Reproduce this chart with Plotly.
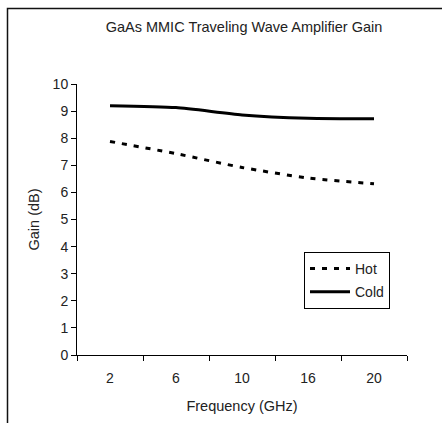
import plotly.graph_objects as go

freq_labels = ["2", "6", "10", "16", "20"]
hot_gain = [7.88, 7.43, 6.92, 6.53, 6.32]
cold_gain = [9.2, 9.13, 8.86, 8.74, 8.72]
y_ticks = list(range(0, 11))

W, H = 442, 423
L, R, T, B = 77, 35, 84, 68
pw, ph = W - L - R, H - T - B

def px_x(p):
    return (p - L) / pw

def px_y(p):
    return (H - B - p) / ph

font = "Liberation Sans, Arial, sans-serif"
txt = "#222"

fig = go.Figure()
fig.add_trace(go.Scatter(
    x=freq_labels, y=hot_gain, name="Hot", mode="lines",
    line=dict(color="black", width=3, dash="5px,7px", shape="spline", smoothing=0.6),
    legendgroup="a",
))
fig.add_trace(go.Scatter(
    x=freq_labels, y=cold_gain, name="Cold", mode="lines",
    line=dict(color="black", width=3, shape="spline", smoothing=0.6),
    legendgroup="b",
))

fig.update_layout(
    width=W, height=H,
    margin=dict(l=L, r=R, t=T, b=B),
    paper_bgcolor="white", plot_bgcolor="white",
    font=dict(family=font, size=14, color=txt),
    title=dict(text="GaAs MMIC Traveling Wave Amplifier Gain", xref="container", x=244 / W,
               xanchor="center", y=1 - 27 / H, yanchor="middle",
               font=dict(size=14.5, color=txt)),
    showlegend=True,
    legend=dict(x=px_x(304), xanchor="left", y=px_y(252), yanchor="top",
                bordercolor="black", borderwidth=1, bgcolor="white",
                font=dict(size=14, color=txt), tracegroupgap=2,
                traceorder="grouped", itemwidth=40),
    xaxis=dict(type="category", range=[-0.5, 4.5], showgrid=False,
               showline=True, linecolor="black", linewidth=1,
               ticks="outside", ticklen=5, tickcolor="black", tickson="boundaries",
               ticklabelstandoff=10,
               tickfont=dict(size=14, color=txt),
               title=dict(text="Frequency (GHz)", font=dict(size=14.5, color=txt), standoff=16)),
    yaxis=dict(range=[0, 10], tickvals=y_ticks, showgrid=False, zeroline=False,
               showline=True, linecolor="black", linewidth=1,
               ticks="outside", ticklen=5, tickcolor="black",
               tickfont=dict(size=14, color=txt),
               title=dict(text="Gain (dB)", font=dict(size=14.5, color=txt), standoff=9)),
    shapes=[dict(type="path", xref="paper", yref="paper",
                 path=f"M {px_x(7.5)} {px_y(430)} L {px_x(7.5)} {px_y(8.5)} L {px_x(450)} {px_y(8.5)}",
                 line=dict(color="#111", width=1.5))],
)

fig.write_html("out.html", config={"displayModeBar": False},
               post_script="document.body.style.margin='0';document.body.style.overflow='hidden';")
